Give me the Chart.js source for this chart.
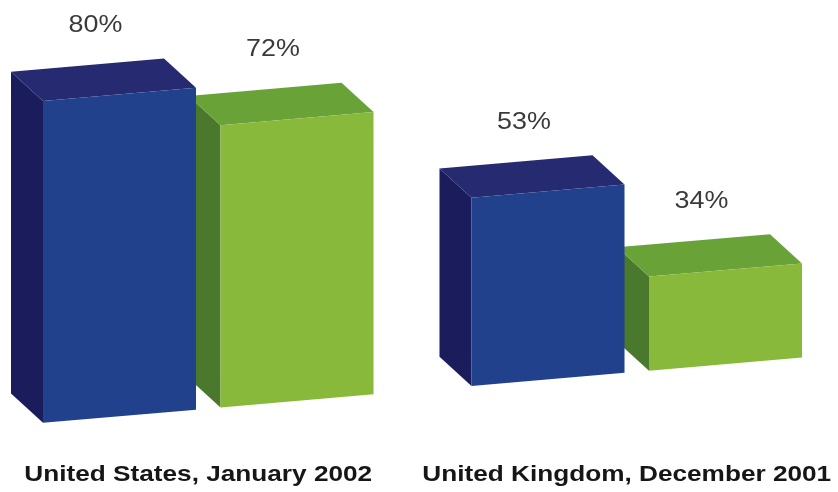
<!DOCTYPE html>
<html>
<head>
<meta charset="utf-8">
<script src="https://cdn.jsdelivr.net/npm/chart.js@4/dist/chart.umd.min.js"></script>
<style>
    html, body { margin: 0; padding: 0; background: #fff; overflow: hidden; }
    .chart-box { position: absolute; left: -6px; top: 0; width: 857px; height: 492px; }
</style>
</head>
<body>
<div class="chart-box"><canvas id="surveyChart"></canvas></div>
<script>
const categories = ['United States, January 2002', 'United Kingdom, December 2001'];
const blueValues = [80, 53];
const greenValues = [72, 34];
// the picture's value axis does not start at zero
const axisMin = 15;
const axisMax = 99;

// 3D look: vertical shear for the perspective, box depth in px
const SHEAR = 0.086;
const DEPTH = 32;
// the source type is stretched sideways
const TEXT_STRETCH = 1.19;
const VALUE_STRETCH = 1.12;

const faceColors = [
    { front: '#21418d', side: '#1b1c5c', top: '#262a70' },
    { front: '#89b93b', side: '#4a782c', top: '#69a338' }
];

document.addEventListener('DOMContentLoaded', function() {
    createChart();
});

function barProps(chart, datasetIndex) {
    return chart.getDatasetMeta(datasetIndex).data.map(el => el.getProps(['x', 'y', 'base', 'width'], true));
}

function drawFaces(ctx, bar, colors) {
    const left = bar.x - bar.width / 2;
    const right = bar.x + bar.width / 2;
    const top = bar.y;
    const base = bar.base;

    // left side
    ctx.fillStyle = colors.side;
    ctx.beginPath();
    ctx.moveTo(left, top);
    ctx.lineTo(left - DEPTH, top - DEPTH);
    ctx.lineTo(left - DEPTH, base - DEPTH);
    ctx.lineTo(left, base);
    ctx.closePath();
    ctx.fill();

    // top
    ctx.fillStyle = colors.top;
    ctx.beginPath();
    ctx.moveTo(left, top);
    ctx.lineTo(right, top);
    ctx.lineTo(right - DEPTH, top - DEPTH);
    ctx.lineTo(left - DEPTH, top - DEPTH);
    ctx.closePath();
    ctx.fill();
}

function stretchedText(ctx, text, x, y, stretch) {
    ctx.save();
    ctx.translate(x, y);
    ctx.scale(stretch, 1);
    ctx.fillText(text, 0, 0);
    ctx.restore();
}

const boxPlugin = {
    id: 'box3d',
    beforeDatasetsDraw(chart) {
        const ctx = chart.ctx;
        ctx.save();
        ctx.transform(1, -SHEAR, 0, 1, 0, 0);
        // back faces first, right to left so the blue box covers the green sides
        for (let d = chart.data.datasets.length - 1; d >= 0; d--) {
            barProps(chart, d).forEach(bar => drawFaces(ctx, bar, faceColors[d]));
        }
    },
    afterDatasetsDraw(chart) {
        const ctx = chart.ctx;
        ctx.restore();

        // value labels over the back edge of each box
        ctx.save();
        ctx.font = '24px "Liberation Sans", Arial, sans-serif';
        ctx.fillStyle = '#3a3a3a';
        ctx.textAlign = 'center';
        ctx.textBaseline = 'alphabetic';
        chart.data.datasets.forEach((ds, d) => {
            barProps(chart, d).forEach((bar, i) => {
                const x = bar.x - 24;
                const y = bar.y - 73 - SHEAR * x;
                stretchedText(ctx, ds.data[i] + '%', x, y + 8.5, VALUE_STRETCH);
            });
        });
        ctx.restore();
    },
    afterDraw(chart) {
        // category labels at the x axis tick positions
        const ctx = chart.ctx;
        const xScale = chart.scales.x;
        ctx.save();
        ctx.font = 'bold 22px "Liberation Sans", Arial, sans-serif';
        ctx.fillStyle = '#161616';
        ctx.textAlign = 'center';
        ctx.textBaseline = 'alphabetic';
        chart.data.labels.forEach((label, i) => {
            const x = xScale.getPixelForTick(i) - 10;
            stretchedText(ctx, label, x, xScale.top + 54, TEXT_STRETCH);
        });
        ctx.restore();
    }
};

function createChart() {
    const ctx = document.getElementById('surveyChart').getContext('2d');
    new Chart(ctx, {
        type: 'bar',
        data: {
            labels: categories,
            datasets: [{
                data: blueValues,
                backgroundColor: faceColors[0].front,
                borderWidth: 0,
                base: axisMin,
                clip: false,
                categoryPercentage: 0.8285,
                barPercentage: 0.862
            }, {
                data: greenValues,
                backgroundColor: faceColors[1].front,
                borderWidth: 0,
                base: axisMin,
                clip: false,
                categoryPercentage: 0.8285,
                barPercentage: 0.862
            }]
        },
        options: {
            responsive: true,
            maintainAspectRatio: false,
            animation: false,
            layout: {
                padding: { top: 11, bottom: 5, left: 0, right: 0 }
            },
            plugins: {
                legend: { display: false },
                tooltip: { enabled: false }
            },
            scales: {
                x: {
                    grid: { display: false, drawTicks: false },
                    border: { display: false },
                    ticks: { display: false },
                    afterFit(scale) {
                        scale.height = 60;
                    }
                },
                y: {
                    display: false,
                    beginAtZero: false,
                    min: axisMin,
                    max: axisMax
                }
            }
        },
        plugins: [boxPlugin]
    });
}
</script>
</body>
</html>
